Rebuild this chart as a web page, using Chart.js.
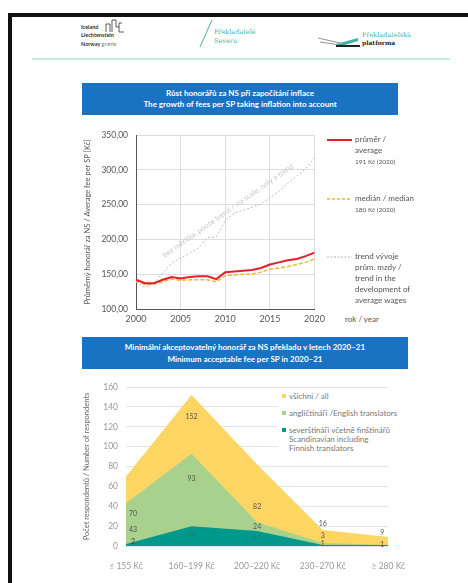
<!DOCTYPE html>
<html>
<head>
<meta charset="utf-8">
<script src="https://cdn.jsdelivr.net/npm/chart.js@4.4.0/dist/chart.umd.min.js"></script>
<style>
  body { margin: 0; width: 468px; height: 583px; background: #fff; position: relative; overflow: hidden; font-family: Lato, sans-serif; }
  .abs { position: absolute; }
  .box { position: absolute; background: #1a72c2; color: #fff; font-weight: bold; text-align: center; }
  .lg { position: absolute; font-size: 8px; color: #555; line-height: 11px; white-space: nowrap; }
  .sm { font-size: 6.5px; }
  .sq { display: inline-block; width: 4px; height: 4px; margin-right: 3px; vertical-align: 1px; }
</style>
</head>
<body>
<!-- okraj skenu -->
<div class="abs" style="left:8px;top:13px;width:460px;height:4px;background:#111"></div>
<div class="abs" style="left:8px;top:13px;width:4px;height:570px;background:#111"></div>

<!-- hlavicka s logy -->
<svg class="abs" style="left:0;top:0" width="468" height="62">
  <g font-family="Lato, sans-serif" font-size="5.5" font-weight="bold" fill="#333">
    <text x="81" y="29">Iceland</text>
    <text x="81" y="37">Liechtenstein</text>
    <text x="81" y="46">Norway <tspan font-weight="normal" fill="#777">grants</tspan></text>
  </g>
  <path d="M106 32 V24 H110 V32 M112 32 V20 H116 V27 H119 V32 H124 M119 27 V23 H122" fill="none" stroke="#333" stroke-width="0.8"/>
  <line x1="212" y1="20" x2="200" y2="47" stroke="#3cb4a0" stroke-width="1"/>
  <g font-family="DejaVu Serif, serif" font-size="6.5" fill="#3cb4a0">
    <text x="214" y="34">Překladatelé</text>
    <text x="214" y="43">Severu</text>
    <text x="362" y="37">Překladatelská</text>
  </g>
  <text x="362" y="45" font-family="DejaVu Serif, serif" font-size="6" font-weight="bold" fill="#222">platforma</text>
  <path d="M318 38 L340 43 M320 42 L340 45" stroke="#666" stroke-width="0.7" fill="none"/>
  <path d="M336 44 L358 38 L358 41 L338 47 Z" fill="#3cb4a0"/>
  <path d="M336 45 L360 45 L360 47 L336 47 Z" fill="#222"/>
  <line x1="32" y1="59" x2="450" y2="59" stroke="#8fd4c8" stroke-width="1"/>
</svg>

<!-- graf 1 -->
<div class="box" style="left:82px;top:83px;width:316px;height:32px;font-size:8px;line-height:11px;padding-top:5px;box-sizing:border-box">
  Růst honorářů za NS při započítání inflace<br>The growth of fees per SP taking inflation into account
</div>
<canvas id="g1" class="abs" style="left:62px;top:122px" width="268" height="208"></canvas>
<div class="abs" style="left:180px;top:206px;width:200px;margin-left:-52px;font-size:7.5px;color:#c9c9c9;white-space:nowrap;transform:rotate(-35deg);transform-origin:center;text-align:center">bez měřítka, pouze trend / no scale, only a trend</div>
<div class="lg" style="left:345px;top:314px;color:#555">rok / year</div>

<svg class="abs" style="left:325px;top:130px" width="30" height="140">
  <line x1="2" y1="10" x2="27" y2="10" stroke="#e3202a" stroke-width="2"/>
  <line x1="2" y1="69" x2="27" y2="69" stroke="#f7b530" stroke-width="1.5" stroke-dasharray="3,2"/>
  <line x1="2" y1="127" x2="27" y2="127" stroke="#b5b5b5" stroke-width="1" stroke-dasharray="2,1.5"/>
</svg>
<div class="lg" style="left:355px;top:134px">průměr /<br>average<br><span class="sm">191 Kč (2020)</span></div>
<div class="lg" style="left:355px;top:193px">medián / median<br><span class="sm">180 Kč (2020)</span></div>
<div class="lg" style="left:355px;top:251px">trend vývoje<br>prům. mzdy /<br>trend in the<br>development of<br>average wages</div>

<!-- graf 2 -->
<div class="box" style="left:82px;top:337px;width:326px;height:32px;font-size:8px;line-height:12px;padding-top:4px;box-sizing:border-box">
  Minimální akceptovatelný honorář za NS překladu v letech 2020–21<br>Minimum acceptable fee per SP in 2020–21
</div>
<canvas id="g2" class="abs" style="left:62px;top:374px" width="350" height="196"></canvas>
<div class="lg" style="left:278px;top:389px;width:125px;background:#fff;color:#777;line-height:9px;padding:3px 0 6px 4px">
  <div style="margin-bottom:8px"><span class="sq" style="background:#fdd562"></span>všichni / all</div>
  <div style="margin-bottom:8px"><span class="sq" style="background:#a9d18e"></span>angličtináři /English translators</div>
  <div><span class="sq" style="background:#00998c"></span>severštináři včetně finštinářů<br><span style="padding-left:7px">Scandinavian including</span><br><span style="padding-left:7px">Finnish translators</span></div>
</div>

<script>
Chart.defaults.font.family = 'Lato, sans-serif';
Chart.defaults.animation = false;

// --- graf 1: honoráře v čase ---
const roky = [2000, 2001, 2002, 2003, 2004, 2005, 2006, 2007, 2008, 2009, 2010,
              2011, 2012, 2013, 2014, 2015, 2016, 2017, 2018, 2019, 2020];
const prumer = [142, 137, 137, 142, 146, 144, 146, 147, 147, 143, 153,
                154, 155, 156, 159, 164, 167, 170, 172, 176, 181];
const median = [141, 135, 136, 139, 143, 141, 142, 142, 142, 139, 148,
                149, 150, 150, 153, 157, 159, 161, 164, 167, 172];
const trendMzdy = [139, 131, 137, 152, 166, 173, 180, 188, 202, 204, 227,
                   238, 242, 246, 251, 260, 269, 281, 291, 302, 318];

const body = arr => arr.map((v, i) => ({x: roky[i], y: v}));

new Chart(document.getElementById('g1'), {
    type: 'line',
    data: {
        datasets: [
            {label: 'průměr', data: body(prumer), borderColor: '#e3202a', borderWidth: 2, pointRadius: 0, tension: 0},
            {label: 'medián', data: body(median), borderColor: '#f7b530', borderWidth: 1.5, borderDash: [4, 2], pointRadius: 0, tension: 0},
            {label: 'trend', data: body(trendMzdy), borderColor: '#bdbdbd', borderWidth: 1, borderDash: [2, 2], pointRadius: 0, tension: 0}
        ]
    },
    options: {
        responsive: false,
        layout: {padding: {left: 0, top: 9, right: 9, bottom: 0}},
        plugins: {legend: {display: false}, tooltip: {enabled: false}},
        scales: {
            x: {
                type: 'linear', min: 2000, max: 2020,
                ticks: {stepSize: 5, color: '#555', font: {size: 9}, padding: 5, callback: v => String(v)},
                grid: {color: '#dedede', drawTicks: false},
                border: {color: '#555'},
                afterFit: s => { s.height = 21; }
            },
            y: {
                min: 100, max: 350,
                ticks: {stepSize: 50, color: '#555', font: {size: 8.5}, padding: 8,
                        callback: v => v.toFixed(2).replace('.', ',')},
                grid: {color: '#dedede', drawTicks: false},
                border: {color: '#555'},
                title: {display: true, text: 'Průměrný honorář za NS / Average fee per SP [Kč]',
                        color: '#555', font: {size: 7.5}, padding: {top: 21, bottom: 0}},
                afterFit: s => { s.width = 74; }
            }
        }
    }
});

// --- graf 2: minimální honorář ---
const pasma = ['≤ 155 Kč', '160–199 Kč', '200–220 Kč', '230–270 Kč', '≥ 280 Kč'];
const vsichni = [70, 152, 82, 16, 9];
const anglictinari = [43, 93, 24, 3, 1];
const severstinari = [2, 20, 15, 1, 1];

// popisky hodnot (posun v px od bodu)
const popisky = {
    id: 'popisky',
    afterDatasetsDraw(chart) {
        const c = chart.ctx;
        c.save();
        c.font = '7px Lato, sans-serif';
        c.textAlign = 'center';
        c.textBaseline = 'middle';
        chart.data.datasets.forEach((ds, di) => {
            const meta = chart.getDatasetMeta(di);
            meta.data.forEach((pt, i) => {
                if (ds.skip && ds.skip[i]) return;
                const dx = i === 0 ? 7 : (i === ds.data.length - 1 ? -6 : 0);
                c.fillStyle = ds.textColor[i];
                c.fillText(String(ds.data[i]), pt.x + dx, pt.y + ds.dy[i]);
            });
        });
        c.restore();
    }
};

new Chart(document.getElementById('g2'), {
    type: 'line',
    data: {
        labels: pasma,
        datasets: [
            {label: 'severštináři', data: severstinari, backgroundColor: '#00998c', fill: 'origin',
             borderWidth: 0, pointRadius: 0, tension: 0,
             dy: [-2, 8, 8, -1, -1], skip: [false, false, false, false, true],
             textColor: ['#444', '#2b7d78', '#2b7d78', '#555', '#555']},
            {label: 'angličtináři', data: anglictinari, backgroundColor: '#a9d18e', fill: 'origin',
             borderWidth: 0, pointRadius: 0, tension: 0,
             dy: [26, 25, 5, -7, 0], skip: [false, false, false, false, false],
             textColor: ['#555', '#555', '#555', '#555', '#555']},
            {label: 'všichni', data: vsichni, backgroundColor: '#fdd562', fill: 'origin',
             borderWidth: 0, pointRadius: 0, tension: 0,
             dy: [37, 22, 42, -6, -4], skip: [false, false, false, false, false],
             textColor: ['#555', '#555', '#555', '#555', '#555']}
        ]
    },
    options: {
        responsive: false,
        layout: {padding: {left: 0, top: 9, right: 19, bottom: 0}},
        plugins: {legend: {display: false}, tooltip: {enabled: false}},
        scales: {
            x: {
                offset: false,
                ticks: {color: '#999', font: {size: 8.5}, padding: 7, maxRotation: 0, autoSkip: false},
                grid: {display: false},
                border: {display: false},
                afterFit: s => { s.height = 24; }
            },
            y: {
                min: 0, max: 160,
                ticks: {stepSize: 20, color: '#999', font: {size: 8.5}, padding: 8},
                grid: {color: '#e3e3e3', drawTicks: false},
                border: {display: false},
                title: {display: true, text: 'Počet respondentů / Number of respondents',
                        color: '#666', font: {size: 7.5}, padding: {top: 20, bottom: 0}},
                afterFit: s => { s.width = 64; }
            }
        }
    },
    plugins: [popisky]
});
</script>
</body>
</html>
